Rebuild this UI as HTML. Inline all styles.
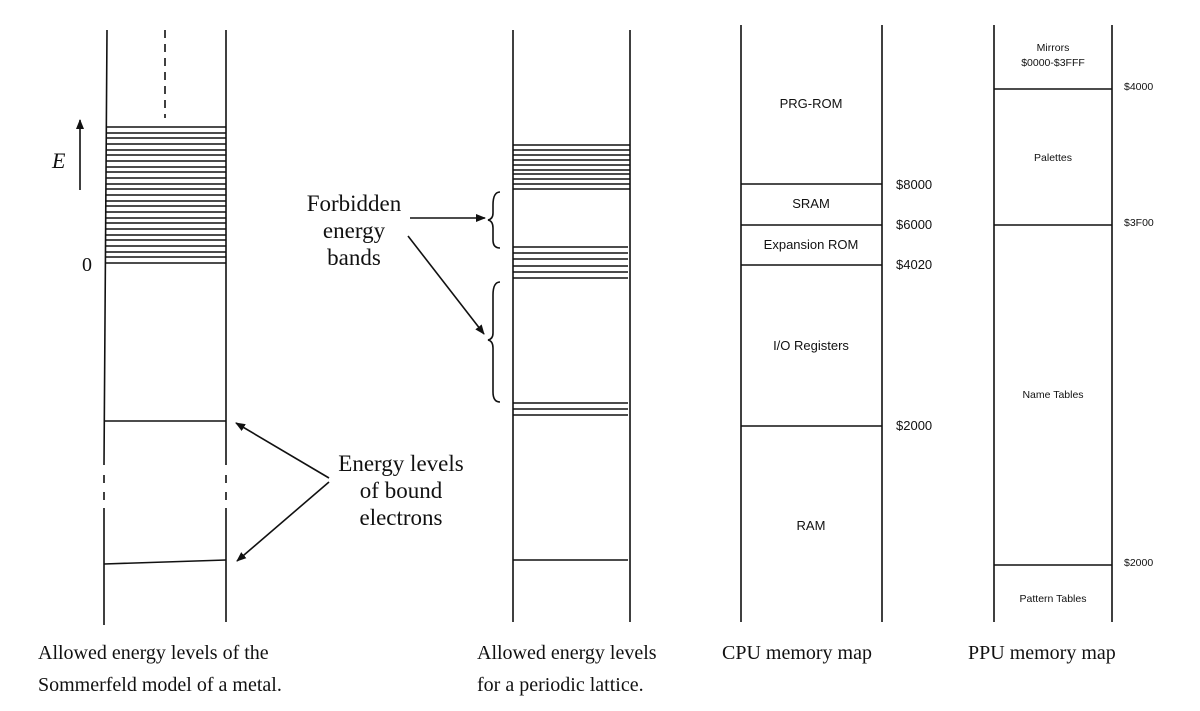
<!DOCTYPE html>
<html><head><meta charset="utf-8"><style>
html,body{margin:0;padding:0;background:#fff;}
svg{display:block;}
.s{font-family:"Liberation Serif",serif;fill:#111;}
.a{font-family:"Liberation Sans",sans-serif;fill:#111;}
</style></head><body>
<svg width="1200" height="711" viewBox="0 0 1200 711" xmlns="http://www.w3.org/2000/svg">
<defs><marker id="ah" markerWidth="10" markerHeight="8" refX="9" refY="4" orient="auto" markerUnits="userSpaceOnUse"><path d="M0,0 L10,4 L0,8 Z" fill="#111"/></marker></defs>
<g stroke="#111" stroke-width="1.6" fill="none">
<!-- panel 1 -->
<path d="M107,30 L104,465 M104,475 V483 M104,492 V500 M104,508 V625"/>
<path d="M226,30 V465 M226,475 V483 M226,492 V500 M226,508 V622"/>
<path d="M165,30 V118" stroke-dasharray="8,6"/>
<path d="M80,190 V120" marker-end="url(#ah)"/>
<g stroke-width="1.5">
<path d="M106,127H226M106,133H226M106,138H226M106,144H226M106,150H226M106,155H226M106,161H226M106,167H226M106,172H226M106,178H226M106,184H226M106,189H226M106,195H226M106,201H226M106,206H226M106,212H226M106,218H226M106,223H226M106,229H226M106,235H226M106,240H226M106,246H226M106,252H226M106,257H226M105,263H226"/>
</g>
<path d="M105,421 H226 M104,564 L226,560"/>
<path d="M329,478 L236,423" marker-end="url(#ah)"/>
<path d="M329,482 L237,561" marker-end="url(#ah)"/>
<!-- panel 2 -->
<path d="M513,30 V622 M630,30 V622"/>
<path d="M513,145H630M513,150H630M513,155H630M513,160H630M513,165H630M513,170H630M513,174H630M513,179H630M513,184H630M513,189H630"/>
<path d="M513,247H628M513,253H628M513,259H628M513,266H628M513,272H628M513,278H628"/>
<path d="M513,403H628M513,409H628M513,415H628"/>
<path d="M513,560H628"/>
<path d="M500,192 Q493,192 493,205 V213 Q493,219 488,220 Q493,221 493,228 V240 Q493,248 500,248"/>
<path d="M500,282 Q493,282 493,295 V333 Q493,339 488,340 Q493,341 493,348 V392 Q493,402 500,402"/>
<path d="M410,218 L485,218" marker-end="url(#ah)"/>
<path d="M408,236 L484,334" marker-end="url(#ah)"/>
<!-- CPU -->
<path d="M741,25 V622 M882,25 V622"/>
<path d="M741,184H882M741,225H882M741,265H882M741,426H882"/>
<!-- PPU -->
<path d="M994,25 V622 M1112,25 V622"/>
<path d="M994,89H1112M994,225H1112M994,565H1112"/>
</g>
<text class="s" x="52" y="168" font-size="22" font-style="italic">E</text>
<text class="s" x="82" y="271" font-size="20">0</text>
<g class="s" font-size="23" text-anchor="middle">
<text x="401" y="471">Energy levels</text>
<text x="401" y="498">of bound</text>
<text x="401" y="525">electrons</text>
<text x="354" y="211">Forbidden</text>
<text x="354" y="238">energy</text>
<text x="354" y="265">bands</text>
</g>
<g class="a" font-size="13" text-anchor="middle">
<text x="811" y="108">PRG-ROM</text>
<text x="811" y="208">SRAM</text>
<text x="811" y="249">Expansion ROM</text>
<text x="811" y="350">I/O Registers</text>
<text x="811" y="530">RAM</text>
</g>
<g class="a" font-size="13">
<text x="896" y="189">$8000</text>
<text x="896" y="229">$6000</text>
<text x="896" y="269">$4020</text>
<text x="896" y="430">$2000</text>
</g>
<g class="a" font-size="10.5" text-anchor="middle">
<text x="1053" y="51">Mirrors</text>
<text x="1053" y="66">$0000-$3FFF</text>
<text x="1053" y="161">Palettes</text>
<text x="1053" y="398">Name Tables</text>
<text x="1053" y="602">Pattern Tables</text>
</g>
<g class="a" font-size="10.5">
<text x="1124" y="90">$4000</text>
<text x="1124" y="226">$3F00</text>
<text x="1124" y="566">$2000</text>
</g>
<g class="s" font-size="20">
<text x="38" y="659">Allowed energy levels of the</text>
<text x="38" y="691">Sommerfeld model of a metal.</text>
<text x="477" y="659">Allowed energy levels</text>
<text x="477" y="691">for a periodic lattice.</text>
<text x="722" y="659">CPU memory map</text>
<text x="968" y="659">PPU memory map</text>
</g>
</svg>
</body></html>
